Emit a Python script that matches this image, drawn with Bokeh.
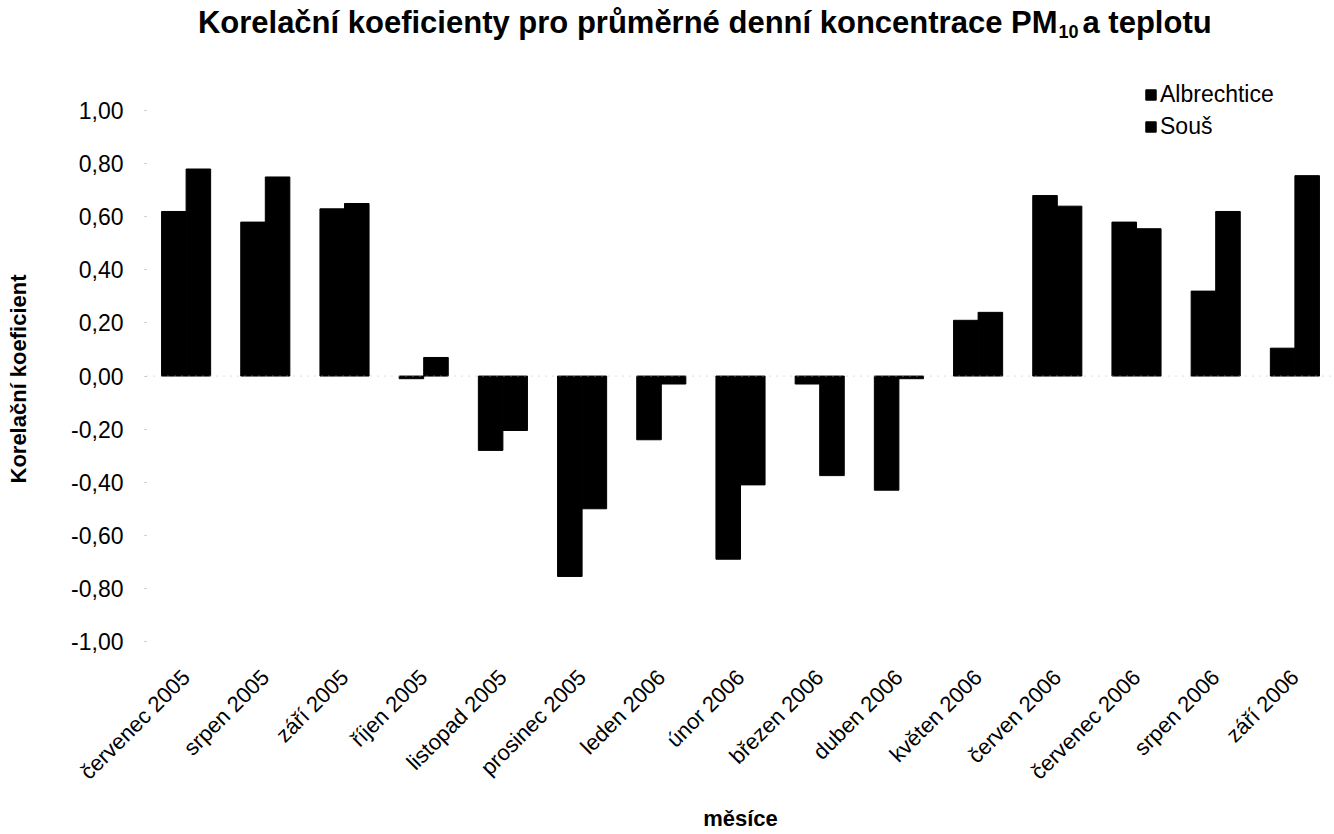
from bokeh.plotting import figure
from bokeh.models import FactorRange, Label, Legend, LegendItem, FixedTicker, Span, ColumnDataSource, Title
from bokeh.transform import dodge
from bokeh.embed import file_html
from bokeh.resources import INLINE

months = ["červenec 2005", "srpen 2005", "září 2005", "říjen 2005", "listopad 2005",
          "prosinec 2005", "leden 2006", "únor 2006", "březen 2006", "duben 2006",
          "květen 2006", "červen 2006", "červenec 2006", "srpen 2006", "září 2006"]
albrechtice = [0.62, 0.58, 0.63, -0.01, -0.28, -0.755, -0.24, -0.69, -0.03, -0.43,
               0.21, 0.68, 0.58, 0.32, 0.105]
sous = [0.78, 0.75, 0.65, 0.07, -0.205, -0.50, -0.03, -0.41, -0.375, -0.01,
        0.24, 0.64, 0.555, 0.62, 0.755]
y_ticks = [-1.0, -0.8, -0.6, -0.4, -0.2, 0.0, 0.2, 0.4, 0.6, 0.8, 1.0]
y_tick_labels = ["-1,00", "-0,80", "-0,60", "-0,40", "-0,20", "0,00", "0,20", "0,40", "0,60", "0,80", "1,00"]

FONT = "Liberation Sans"
W, H = 1334, 834

src = ColumnDataSource(dict(m=months, a=albrechtice, s=sous))

# frame reaches up to the top of the canvas so the title and legend can live inside it
p = figure(x_range=FactorRange(*months), y_range=(-1.0, 1.4148), width=W, height=H,
           output_backend="svg", toolbar_location=None,
           min_border_left=146, min_border_right=0, min_border_top=0, min_border_bottom=182)
p.x_range.range_padding = 0.0

ra = p.vbar(x=dodge("m", -0.155, range=p.x_range), top="a", width=0.31, source=src,
            fill_color="black", line_color="black")
rs = p.vbar(x=dodge("m", 0.155, range=p.x_range), top="s", width=0.31, source=src,
            fill_color="black", line_color="black")

p.add_layout(Span(location=0, dimension="width", line_color="#bbbbbb", line_dash="1 6", line_width=1))

p.xgrid.grid_line_color = None
p.ygrid.grid_line_color = None
p.outline_line_color = None

p.yaxis.ticker = FixedTicker(ticks=y_ticks)
p.yaxis.major_label_overrides = {t: l for t, l in zip(y_ticks, y_tick_labels)}
p.yaxis.axis_line_color = None
p.yaxis.major_tick_line_color = "#bbbbbb"
p.yaxis.major_tick_in = 0
p.yaxis.major_tick_out = 2
p.yaxis.minor_tick_line_color = None
p.yaxis.major_label_text_font = FONT
p.yaxis.major_label_text_font_size = "23px"
p.yaxis.major_label_text_color = "black"
p.yaxis.major_label_standoff = 21
# blank spacer label pushes the axis title further out
p.yaxis.axis_label = " "
p.yaxis.axis_label_text_font_size = "10px"
p.yaxis.axis_label_standoff = 24

ytitle = Title(text="Korelační koeficient", align="left", offset=158, standoff=0,
               text_font=FONT, text_font_size="22px", text_font_style="bold", text_color="black")
p.add_layout(ytitle, "left")

p.xaxis.axis_line_color = None
p.xaxis.major_tick_line_color = None
p.xaxis.major_tick_out = 0
p.xaxis.major_label_orientation = 0.785398
p.xaxis.major_label_text_font = FONT
p.xaxis.major_label_text_font_size = "22px"
p.xaxis.major_label_text_color = "black"
p.xaxis.major_label_standoff = 32
p.xaxis.axis_label = "měsíce"
p.xaxis.axis_label_text_font = FONT
p.xaxis.axis_label_text_font_size = "22px"
p.xaxis.axis_label_text_font_style = "bold"
p.xaxis.axis_label_text_color = "black"
p.xaxis.axis_label_standoff = 10

legend = Legend(items=[LegendItem(label="Albrechtice", renderers=[ra]),
                       LegendItem(label="Souš", renderers=[rs])],
                location=(998, 501), border_line_color=None, background_fill_alpha=0,
                label_text_font=FONT, label_text_font_size="23px", label_text_color="black",
                glyph_width=13, glyph_height=13, spacing=4, padding=0, margin=0,
                label_standoff=3, label_height=28)
p.add_layout(legend)

# title with subscript, positioned relative to the plot frame
p.add_layout(Label(x=911, y=619, x_units="screen", y_units="screen",
                   text="Korelační koeficienty pro průměrné denní koncentrace PM",
                   text_font=FONT, text_font_size="31px", text_font_style="bold",
                   text_align="right", text_baseline="alphabetic", text_color="black"))
p.add_layout(Label(x=912, y=610, x_units="screen", y_units="screen",
                   text="10", text_font=FONT, text_font_size="18px", text_font_style="bold",
                   text_align="left", text_baseline="alphabetic", text_color="black"))
p.add_layout(Label(x=936, y=619, x_units="screen", y_units="screen",
                   text="a teplotu", text_font=FONT, text_font_size="31px", text_font_style="bold",
                   text_align="left", text_baseline="alphabetic", text_color="black"))

open("out.html", "w").write(file_html(p, INLINE))
